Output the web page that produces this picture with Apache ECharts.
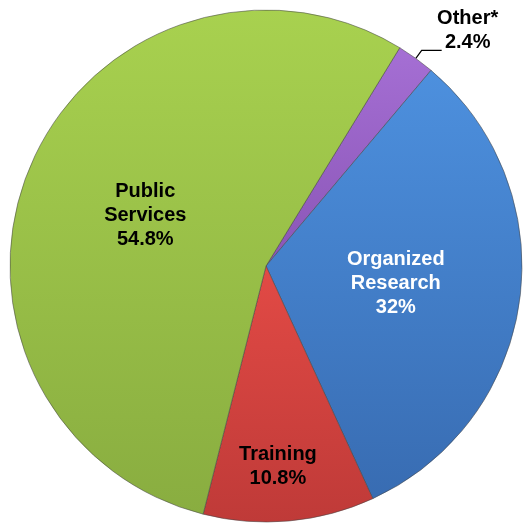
<!DOCTYPE html>
<html>
<head>
<meta charset="utf-8">
<script src="https://cdn.jsdelivr.net/npm/echarts@6/dist/echarts.min.js"></script>
<style>
  html, body { margin: 0; padding: 0; background: #fff; }
  #chart { width: 527px; height: 527px; }
</style>
</head>
<body>
<div id="chart"></div>
<script>
// slices, clockwise from the top-right
const categories = ['Other*', 'Organized\nResearch', 'Training', 'Public\nServices'];
const shares = [2.4, 32, 10.8, 54.8];
const colorsTop = ['#a56fd4', '#4d90de', '#e24a45', '#a8d14f'];
const colorsBottom = ['#8a55b6', '#386cb2', '#bf3a38', '#89ad40'];
const labelColors = ['#000', '#fff', '#000', '#000'];

const chart = echarts.init(document.getElementById('chart'));

const txt = {
  fontFamily: 'Liberation Sans, Arial, sans-serif',
  fontWeight: 'bold',
  fontSize: 20,
  lineHeight: 24,
  align: 'center'
};

const data = categories.map((name, i) => ({
  name: name,
  value: shares[i],
  itemStyle: {
    color: new echarts.graphic.LinearGradient(0, 0, 0, 1, [
      { offset: 0, color: colorsTop[i] },
      { offset: 1, color: colorsBottom[i] }
    ])
  },
  label: i === 0
    ? {
        position: 'outside',
        distanceToLabelLine: 2,
        formatter: p => '{t|' + p.name + '}\n{t|' + p.value + '%}',
        rich: { t: Object.assign({ color: '#000', width: 62 }, txt) }
      }
    : { position: 'inside', color: labelColors[i] },
  labelLine: i === 0 ? { show: true, length: 10, length2: 20 } : { show: false }
}));

chart.setOption({
  animation: false,
  series: [
    {
      type: 'pie',
      center: [266, 266],
      radius: [0, 256],
      startAngle: 58.5,
      clockwise: true,
      avoidLabelOverlap: false,
      itemStyle: {
        borderColor: 'rgba(70,70,70,0.55)',
        borderWidth: 1
      },
      label: Object.assign({
        show: true,
        color: '#000',
        formatter: p => p.name + '\n' + p.value + '%'
      }, txt),
      labelLine: {
        lineStyle: { color: '#000', width: 1.2 }
      },
      labelLayout: p => {
        if (p.dataIndex === 2) return { dy: 70 };
        if (p.dataIndex === 0) return { dx: -7, dy: -20 };
        return {};
      },
      data: data
    }
  ]
});
</script>
</body>
</html>
